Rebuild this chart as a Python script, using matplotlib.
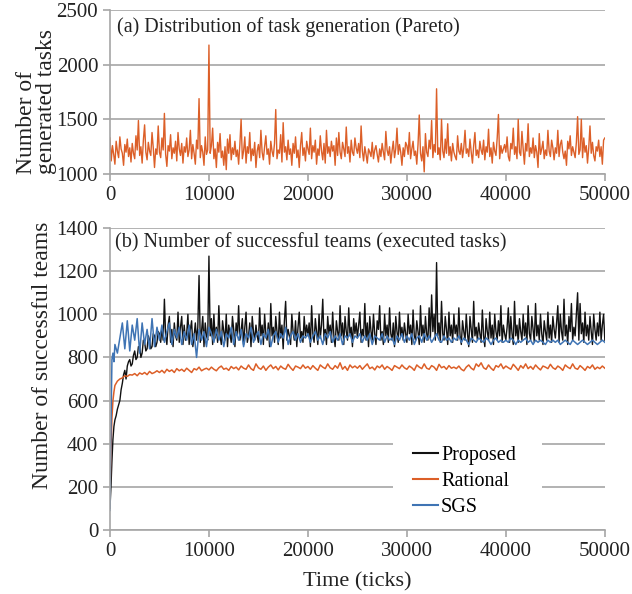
import numpy as np
import matplotlib.pyplot as plt
from matplotlib.patches import Rectangle

plt.rcParams['font.family'] = ['Liberation Serif', 'DejaVu Serif']

# (a) generated tasks, one value every 125 ticks
ticks_a = list(range(0, 50001, 125))
gen_tasks = [
    1330, 1120, 1260, 1180, 1090, 1300, 1210, 1150, 1340, 1230,
    1190, 1080, 1270, 1200, 1320, 1160, 1240, 1110, 1280, 1190,
    1140, 1350, 1220, 1490, 1170, 1250, 1100, 1310, 1450, 1200,
    1130, 1290, 1210, 1170, 1380, 1240, 1060, 1230, 1180, 1440,
    1200, 1150, 1330, 1220, 1555, 1180, 1070, 1260, 1210, 1360,
    1140, 1240, 1190, 1300, 1120, 1380, 1230, 1170, 1280, 1100,
    1250, 1200, 1330, 1160, 1220, 1400, 1140, 1270, 1190, 1090,
    1310, 1230, 1690, 1150, 1260, 1200, 1080, 1340, 1180, 1220,
    2180, 1190, 1260, 1420, 1140, 1230, 1060, 1290, 1200, 1370,
    1150, 1210, 1080, 1250, 1040, 1320, 1190, 1360, 1130, 1240,
    1180, 1300, 1160, 1220, 1090, 1270, 1500, 1140, 1210, 1340,
    1100, 1250, 1190, 1380, 1120, 1230, 1170, 1290, 1060, 1210,
    1270, 1150, 1400, 1200, 1130, 1250, 1350, 1180, 1230, 1090,
    1300, 1210, 1160, 1280, 1590, 1140, 1220, 1190, 1360, 1110,
    1470, 1200, 1250, 1130, 1310, 1180, 1230, 1080, 1280, 1190,
    1340, 1150, 1220, 1060, 1260, 1380, 1170, 1240, 1120, 1300,
    1230, 1180, 1420, 1140, 1260, 1200, 1310, 1090, 1230, 1170,
    1350, 1210, 1130, 1280, 1100, 1400, 1190, 1250, 1160, 1300,
    1210, 1260, 1080, 1330, 1170, 1380, 1200, 1140, 1290, 1230,
    1160, 1430, 1190, 1250, 1110, 1310, 1200, 1170, 1330, 1240,
    1190, 1280, 1150, 1440, 1210, 1120, 1250, 1180, 1100, 1230,
    1200, 1160, 1290, 1140, 1220, 1260, 1180, 1110, 1230, 1160,
    1280, 1200, 1130, 1390, 1220, 1170, 1250, 1100, 1210, 1300,
    1150, 1230, 1420, 1180, 1270, 1200, 1080, 1240, 1160, 1290,
    1260, 1180, 1380, 1140, 1230, 1300, 1170, 1210, 1090, 1270,
    1540, 1190, 1120, 1250, 1020, 1370, 1200, 1160, 1310, 1230,
    1490, 1150, 1270, 1200, 1780, 1180, 1240, 1130, 1500, 1210,
    1150, 1320, 1190, 1460, 1170, 1250, 1120, 1280, 1200, 1160,
    1130, 1350, 1210, 1180, 1280, 1150, 1240, 1400, 1190, 1230,
    1160, 1320, 1200, 1100, 1260, 1380, 1170, 1220, 1150, 1300,
    1220, 1180, 1310, 1130, 1250, 1200, 1410, 1160, 1240, 1100,
    1290, 1210, 1170, 1330, 1545, 1140, 1260, 1190, 1230, 1270,
    1200, 1340, 1160, 1120, 1280, 1230, 1420, 1180, 1250, 1140,
    1500, 1200, 1170, 1390, 1230, 1090, 1280, 1210, 1460, 1160,
    1240, 1190, 1330, 1150, 1260, 1200, 1060, 1370, 1180, 1230,
    1300, 1140, 1220, 1170, 1400, 1210, 1160, 1310, 1240, 1130,
    1240, 1190, 1400, 1160, 1270, 1310, 1200, 1140, 1210, 1080,
    1300, 1230, 1350, 1170, 1250, 1200, 1150, 1290, 1525, 1180,
    1220, 1500, 1150, 1330, 1200, 1260, 1100, 1240, 1440, 1190,
    1290, 1170, 1120, 1250, 1210, 1310, 1160, 1250, 1090, 1310,
    1330,
]

# (b) successful teams
ticks_p = [0, 100, 200, 300, 400, 500, 625, 750, 875] + list(range(1000, 50001, 125))
proposed = [
    100, 200, 320, 420, 480, 510, 530, 560, 580,
    600, 650, 680, 720, 740, 700, 760, 780, 790, 760,
    770, 810, 830, 790, 800, 850, 850, 800, 820, 880,
    870, 830, 840, 900, 880, 840, 850, 910, 900, 850,
    870, 920,
    910, 870, 940, 880, 1070, 900, 860, 950, 990, 870,
    930, 850, 960, 900, 880, 1010, 870, 940, 990, 860,
    950, 880, 910, 1000, 860, 930, 970, 850, 900, 960,
    880, 940, 1180, 870, 920, 990, 850, 960, 900, 880,
    1270, 900, 980, 860, 1000, 890, 940, 870, 1040, 900,
    860, 970, 920, 880, 1000, 850, 950, 910, 870, 990,
    930, 850, 960, 900, 1040, 880, 920, 980, 860, 940,
    1010, 870, 900, 960, 850, 990, 920, 880, 950, 900,
    870, 1030, 900, 950, 860, 1000, 910, 880, 960, 850,
    1050, 900, 940, 870, 990, 920, 860, 1010, 890, 950,
    840, 970, 1060, 880, 930, 900, 860, 1000, 920, 880,
    970, 850, 940, 1010, 890, 920, 870, 990, 900, 950,
    900, 960, 850, 1040, 910, 870, 980, 920, 860, 1000,
    890, 950, 1070, 880, 930, 860, 990, 910, 950, 870,
    1010, 900, 850, 970, 920, 880, 1040, 900, 960, 860,
    990, 920, 880, 1030, 900, 940, 850, 980, 910, 960,
    890, 950, 1010, 870, 930, 900, 1050, 880, 960, 850,
    990, 920, 880, 1000, 910, 860, 970, 930, 1040, 880,
    920, 860, 1000, 900, 950, 870, 1030, 910, 880, 960,
    850, 990, 920, 870, 1010, 900, 940, 880, 960, 910,
    870, 1000, 910, 950, 860, 1020, 900, 880, 970, 920,
    860, 1040, 900, 950, 870, 990, 910, 880, 1030, 890,
    1090, 920, 1000, 880, 1240, 900, 960, 870, 1060, 910,
    880, 990, 930, 860, 1010, 900, 950, 870, 1000, 910,
    950, 880, 1030, 900, 860, 970, 920, 880, 1000, 910,
    850, 990, 930, 870, 1060, 900, 940, 880, 960, 910,
    870, 1020, 900, 850, 980, 920, 880, 1010, 890, 950,
    860, 1000, 920, 880, 970, 900, 1040, 870, 950, 910,
    880, 940, 1030, 870, 990, 910, 860, 1060, 900, 950,
    870, 980, 920, 880, 1000, 900, 960, 860, 1040, 910,
    880, 990, 930, 870, 1050, 900, 950, 880, 1000, 910,
    860, 970, 920, 880, 1010, 890, 950, 870, 990, 930,
    890, 960, 1040, 870, 1000, 920, 880, 1070, 900, 950,
    860, 990, 920, 1050, 880, 940, 900, 1000, 1100, 880,
    1050, 910, 960, 870, 1010, 900, 950, 880, 990, 920,
    860, 1000, 930, 880, 960, 900, 1010, 880, 950, 1000,
    880,
]

ticks_b = [0, 100, 200, 300, 400, 500, 750] + list(range(1000, 50001, 250))
rational = [
    150, 380, 520, 600, 640, 670, 690,
    700, 705, 715, 712, 720, 718, 725, 715, 728, 722, 730, 720, 735, 725, 730, 738,
    730, 740, 728, 745, 735, 742, 730, 748, 738, 745, 735, 750, 740, 730, 748, 742, 755, 738, 745, 750,
    742, 755, 745, 738, 752, 760, 745, 750, 740, 758, 748, 755, 742, 760, 750, 745, 765, 748, 740, 770,
    752, 745, 760, 740, 755, 765, 748, 758, 742, 760, 750, 745, 768, 752, 740, 760, 755, 748, 765, 750,
    758, 745, 762, 750, 740, 765, 755, 748, 770, 752, 745, 762, 750, 775, 745, 758, 740, 765, 752, 760,
    750, 762, 745, 758, 770, 748, 755, 742, 760, 752, 765, 745, 758, 750, 740, 762, 755, 748, 765, 752,
    745, 760, 752, 740, 765, 755, 748, 770, 750, 745, 762, 755, 740, 768, 752, 758, 745, 762, 750, 755,
    748, 760, 745, 738, 755, 765, 750, 742, 770, 758, 775, 752, 745, 765, 750, 740, 762, 755, 770, 748,
    760, 752, 745, 768, 755, 740, 762, 750, 770, 748, 758, 745, 765, 752, 742, 760, 755, 748, 768, 752,
    745, 760, 752, 740, 765, 755, 748, 770, 750, 745, 762, 752, 740, 758, 750, 765, 745, 755, 748, 760,
    750,
]
sgs = [
    90, 480, 790, 820, 780, 860, 820,
    890, 960, 840, 970, 830, 950, 880, 980, 820, 960, 860, 930, 840, 980, 850, 940,
    880, 950, 870, 920, 960, 860, 930, 890, 940, 860, 920, 880, 950, 860, 910, 800, 930, 880, 920, 850,
    940, 910, 870, 930, 880, 920, 850, 910, 890, 940, 860, 920, 880, 930, 850, 910, 890, 940, 870, 900,
    920, 860, 910, 890, 930, 850, 900, 920, 870, 910, 890, 940, 860, 900, 920, 880, 910, 870, 900, 890,
    910, 870, 900, 920, 880, 900, 860, 910, 890, 920, 870, 900, 880, 910, 860, 900, 890, 910, 870, 900,
    890, 910, 870, 900, 880, 910, 860, 900, 890, 880, 910, 870, 900, 880, 890, 860, 900, 880, 910, 870,
    900, 880, 910, 860, 890, 900, 870, 910, 880, 900, 870, 890, 910, 880, 870, 900, 880, 890, 870, 890,
    880, 900, 870, 890, 880, 860, 890, 880, 870, 890, 880, 870, 890, 880, 860, 880, 890, 870, 880, 870,
    880, 870, 890, 880, 860, 880, 870, 880, 890, 870, 880, 860, 880, 870, 880, 870, 860, 880, 870, 880,
    870, 880, 860, 870, 880, 870, 860, 880, 870, 860, 870, 880, 870, 860, 870, 880, 870, 860, 870, 880,
    870,
]

grid_c = '#a6a6a6'
text_c = '#222222'
orange = '#dc5f28'
blue = '#3f74b4'


def style(ax, ymin, ymax, step):
    ax.set_xlim(0, 50000)
    ax.set_ylim(ymin, ymax)
    ax.set_yticks(np.arange(ymin, ymax + 1, step))
    ax.set_xticks(np.arange(0, 50001, 10000))
    ax.grid(axis='y', color=grid_c, linewidth=1.2)
    ax.set_axisbelow(True)
    for s in ['top', 'right']:
        ax.spines[s].set_visible(False)
    for s in ['left', 'bottom']:
        ax.spines[s].set_color(grid_c)
        ax.spines[s].set_linewidth(1.2)
    ax.tick_params(axis='both', colors=grid_c, labelcolor=text_c, labelsize=15,
                   length=5, width=1.2)


fig = plt.figure(figsize=(6.32, 5.94), dpi=100)
ax1 = fig.add_axes([0.174, 0.707, 0.783, 0.276])
ax2 = fig.add_axes([0.174, 0.108, 0.783, 0.508])

ax1.plot(ticks_a[:len(gen_tasks)], gen_tasks, color=orange, linewidth=1.0)
style(ax1, 1000, 2500, 500)
ax1.text(0.015, 0.955, '(a) Distribution of task generation (Pareto)', transform=ax1.transAxes,
         fontsize=14.5, va='top', ha='left', color=text_c)
fig.text(0.058, 0.707, 'Number of\ngenerated tasks', rotation=90, fontsize=17,
         ha='center', va='bottom', multialignment='left', linespacing=0.93, color=text_c)

ax2.plot(ticks_p[:len(proposed)], proposed, color='#111111', linewidth=1.0, label='Proposed')
ax2.plot(ticks_b[:len(rational)], rational, color=orange, linewidth=1.1, label='Rational')
ax2.plot(ticks_b[:len(sgs)], sgs, color=blue, linewidth=1.1, label='SGS')
style(ax2, 0, 1400, 200)
ax2.text(0.01, 0.985, '(b) Number of successful teams (executed tasks)', transform=ax2.transAxes,
         fontsize=14.5, va='top', ha='left', color=text_c)
fig.text(0.068, 0.402, 'Number of successful teams', rotation=90, fontsize=17,
         ha='center', va='center', color=text_c)
ax2.set_xlabel('Time (ticks)', fontsize=16, color=text_c, labelpad=8)

# white block behind the legend hides the gridlines there
ax2.add_patch(Rectangle((0.572, 0.017), 0.301, 0.33, transform=ax2.transAxes,
                        facecolor='white', edgecolor='none', zorder=1))
leg = ax2.legend(loc='upper left', bbox_to_anchor=(0.612, 0.279), fontsize=14.5, frameon=False,
                 handlelength=1.25, handletextpad=0.15, borderpad=0, borderaxespad=0,
                 labelspacing=0.36)
for h in leg.get_lines():
    h.set_linewidth(1.5)

fig.savefig('out.png', dpi=100)
